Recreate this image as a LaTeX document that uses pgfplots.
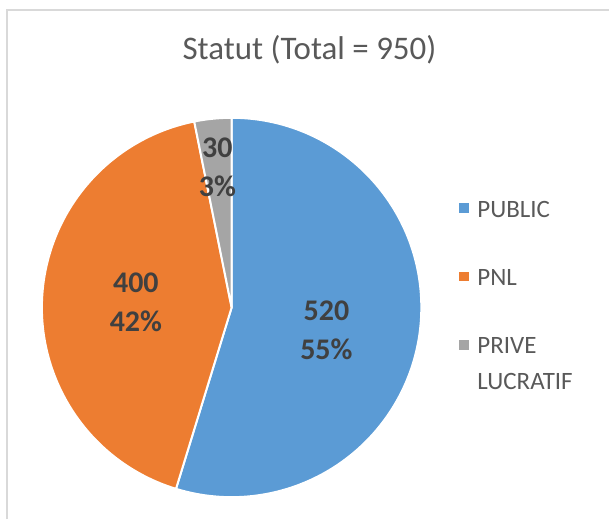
\documentclass[border=0pt]{standalone}
\usepackage{fontspec}
\setmainfont{Carlito}
\usepackage{pgfplots}
\usepackage{pgfplotstable}
\pgfplotsset{compat=1.18}
\definecolor{bleu}{HTML}{5B9BD5}
\definecolor{orangeb}{HTML}{ED7D31}
\definecolor{gris}{HTML}{A5A5A5}
\definecolor{texte}{HTML}{595959}
\definecolor{etiq}{HTML}{404040}
\definecolor{cadre}{HTML}{D9D9D9}

\pgfplotstableread{
nom valeur
PUBLIC 520
PNL 400
PRIVE 30
}\statut

\pgfplotstablegetelem{0}{valeur}\of\statut \let\va\pgfplotsretval
\pgfplotstablegetelem{1}{valeur}\of\statut \let\vb\pgfplotsretval
\pgfplotstablegetelem{2}{valeur}\of\statut \let\vc\pgfplotsretval
\pgfmathtruncatemacro\total{\va+\vb+\vc}
% angles (clockwise from 12 o'clock)
\pgfmathsetmacro\fa{\va/\total}
\pgfmathsetmacro\fb{\vb/\total}
\pgfmathsetmacro\fc{\vc/\total}
\pgfmathsetmacro\aA{90}
\pgfmathsetmacro\aB{\aA-360*\fa}
\pgfmathsetmacro\aC{\aB-360*\fb}
\pgfmathsetmacro\aD{\aC-360*\fc}
\pgfmathtruncatemacro\pa{round(100*\fa)}
\pgfmathtruncatemacro\pb{round(100*\fb)}
\pgfmathtruncatemacro\pc{round(100*\fc)}
% centre and radius (axis units = pt)
\def\cx{232}\def\cy{212}\def\R{190}
\pgfmathsetmacro\xA{\cx+96*cos((\aA+\aB)/2)}\pgfmathsetmacro\yA{\cy-9+96*sin((\aA+\aB)/2)}
\pgfmathsetmacro\xB{\cx+96*cos((\aB+\aC)/2)}\pgfmathsetmacro\yB{\cy+96*sin((\aB+\aC)/2)}
\pgfmathsetmacro\xC{\cx+144*cos((\aC+\aD)/2)}\pgfmathsetmacro\yC{\cy-3+144*sin((\aC+\aD)/2)}

\begin{document}
\begin{tikzpicture}
\begin{axis}[hide axis, scale only axis, width=610pt, height=520pt,
  xmin=0, xmax=610, ymin=0, ymax=520, clip=false,
  legend style={draw=none, fill=none, at={(axis cs:457,323)}, anchor=north west,
    font=\fontsize{25}{36}\selectfont, text=texte, row sep=47pt,
    cells={anchor=base west}},
  legend image code/.code={\fill[#1] (0pt,4pt) rectangle (10pt,14pt); \path (0pt,0pt) (16pt,0pt);}]
\path (axis cs:0,0) rectangle (axis cs:610,520);
\draw[cadre, line width=2pt] (axis cs:7,0) -- (axis cs:7,510) -- (axis cs:610,510);
\node[font=\fontsize{33}{38}\selectfont, text=texte] at (axis cs:310,470) {Statut (Total = \total)};
\filldraw[fill=bleu, draw=white, line width=2pt] (axis cs:\cx,\cy) -- ++(\aA:\R pt) arc[start angle=\aA, end angle=\aB, radius=\R pt] -- cycle;
\filldraw[fill=orangeb, draw=white, line width=2pt] (axis cs:\cx,\cy) -- ++(\aB:\R pt) arc[start angle=\aB, end angle=\aC, radius=\R pt] -- cycle;
\filldraw[fill=gris, draw=white, line width=2pt] (axis cs:\cx,\cy) -- ++(\aC:\R pt) arc[start angle=\aC, end angle=\aD, radius=\R pt] -- cycle;
\node[font=\bfseries\fontsize{30}{39}\selectfont, text=etiq, align=center] at (axis cs:\xA,\yA) {\va\\\pa\%};
\node[font=\bfseries\fontsize{30}{39}\selectfont, text=etiq, align=center] at (axis cs:\xB,\yB) {\vb\\\pb\%};
\node[font=\bfseries\fontsize{30}{39}\selectfont, text=etiq, align=center] at (axis cs:\xC,\yC) {\vc\\\pc\%};
\addlegendimage{fill=bleu, draw=none}
\addlegendentry{PUBLIC}
\addlegendimage{fill=orangeb, draw=none}
\addlegendentry{PNL}
\addlegendimage{fill=gris, draw=none}
\addlegendentry{\vtop{\baselineskip=36pt\hbox{PRIVE}\hbox{LUCRATIF}}}
\end{axis}
\end{tikzpicture}
\end{document}
